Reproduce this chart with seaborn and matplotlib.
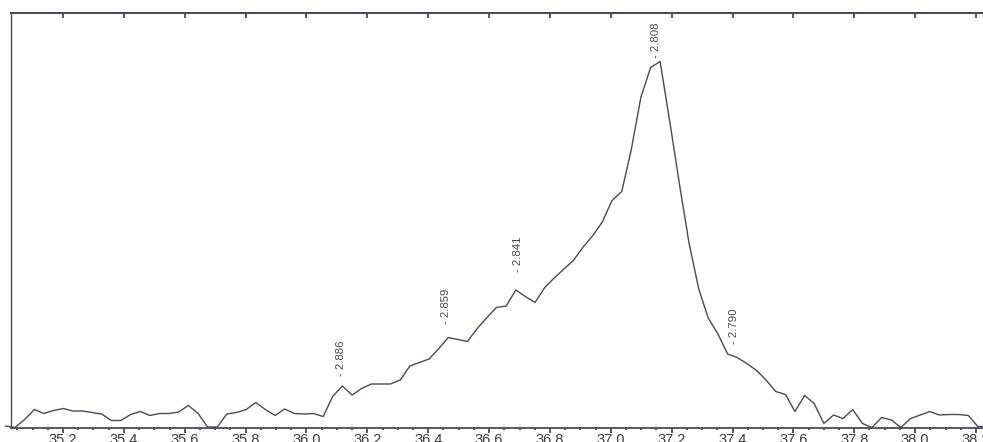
import matplotlib
matplotlib.use("Agg")
import matplotlib.pyplot as plt
import seaborn as sns
import numpy as np
import pandas as pd
from matplotlib.ticker import MultipleLocator

# ---- data (2-theta in degrees, intensity in counts) ----
two_theta = [
    35.011, 35.042, 35.074, 35.106, 35.137, 35.169, 35.201, 35.232, 35.264, 35.295,
    35.327, 35.359, 35.390, 35.422, 35.454, 35.485, 35.517, 35.549, 35.580, 35.612,
    35.644, 35.675, 35.707, 35.738, 35.770, 35.802, 35.833, 35.865, 35.897, 35.928,
    35.960, 35.992, 36.023, 36.055, 36.086, 36.118, 36.150, 36.181, 36.213, 36.245,
    36.276, 36.308, 36.340, 36.371, 36.403, 36.435, 36.466, 36.498, 36.529, 36.561,
    36.593, 36.624, 36.656, 36.688, 36.719, 36.751, 36.783, 36.814, 36.846, 36.877,
    36.909, 36.941, 36.972, 37.004, 37.036, 37.067, 37.099, 37.131, 37.162, 37.194,
    37.226, 37.257, 37.289, 37.320, 37.352, 37.384, 37.415, 37.447, 37.479, 37.510,
    37.542, 37.574, 37.605, 37.637, 37.668, 37.700, 37.732, 37.763, 37.795, 37.827,
    37.858, 37.890, 37.922, 37.953, 37.985, 38.017, 38.048, 38.080, 38.111, 38.143,
    38.175, 38.206, 38.238,
]
counts = [
    1.5, 0, 8, 18, 14, 17, 19, 16.5, 16.5, 15,
    13.5, 7, 7, 13, 16, 12, 14, 14, 15.5, 22,
    14, 0.5, 0.5, 13.5, 15, 18, 25, 18, 12, 18.5,
    14, 13.5, 14, 11, 31, 41.5, 32.5, 39, 43.5, 43.5,
    43.5, 47.5, 61.5, 65, 68.5, 79, 90, 88, 86, 99,
    110, 120, 121.5, 137.5, 131, 125, 140, 149.5, 158.5, 167,
    180.5, 192, 205.5, 227, 236, 277.5, 330.5, 360, 366, 305.5,
    242.5, 184.5, 138.5, 109.5, 93.5, 73.5, 70, 64, 57, 47.5,
    36, 33, 16, 32, 24, 4, 12.5, 9, 18, 4,
    0, 10, 7.5, 0, 9, 12.5, 16, 12.5, 13, 13,
    12, 1, 1,
]

# peak annotations: d-spacing labels, their 2-theta and label heights (counts)
peak_d = ["2.886", "2.859", "2.841", "2.808", "2.790"]
peak_2theta = [36.112, 36.459, 36.696, 37.148, 37.405]
peak_label_y = [51.5, 104, 155, 370, 83.5]

tick_values = [35.2, 35.4, 35.6, 35.8, 36.0, 36.2, 36.4, 36.6, 36.8, 37.0,
               37.2, 37.4, 37.6, 37.8, 38.0, 38.2]
tick_labels = ["35.2", "35.4", "35.6", "35.8", "36.0", "36.2", "36.4", "36.6",
               "36.8", "37.0", "37.2", "37.4", "37.6", "37.8", "38.0", "38.2"]

df = pd.DataFrame({"two_theta": two_theta, "counts": counts})

sns.set_theme(style="ticks")
plt.rcParams["font.family"] = ["Liberation Sans", "DejaVu Sans"]

W, H = 983, 442
fig = plt.figure(figsize=(W / 100, H / 100), dpi=100)
ax_left, ax_right, ax_top, ax_bottom = 11, 990, 13, 427.5
ax = fig.add_axes([ax_left / W, (H - ax_bottom) / H,
                   (ax_right - ax_left) / W, (ax_bottom - ax_top) / H])

line_color = "#4a4a58"
sns.lineplot(data=df, x="two_theta", y="counts", ax=ax, color=line_color,
             linewidth=1.0, sort=False, estimator=None, clip_on=False)

ax.set_xlim(35.0291, 38.246)
ax.set_ylim(0, 414.5)

spine_color = "#4a4a58"
for side in ["left", "top", "bottom"]:
    ax.spines[side].set_color(spine_color)
    ax.spines[side].set_visible(True)
ax.spines["right"].set_visible(False)
ax.spines["bottom"].set_linewidth(1.3)
ax.spines["top"].set_linewidth(1.3)
ax.spines["left"].set_linewidth(1.0)

ax.set_xticks(tick_values)
ax.set_xticklabels(tick_labels)
ax.xaxis.set_minor_locator(MultipleLocator(0.05))
ax.tick_params(axis="x", which="major", direction="out", length=3.4, width=1.3,
               color=spine_color, labelsize=10.5, labelcolor="#3c3c3c", pad=0.8,
               top=False, bottom=True)
ax.tick_params(axis="x", which="minor", direction="out", length=1.4, width=1.3,
               color=spine_color, bottom=True, top=False)
ax.set_yticks([])
ax.set_xlabel("")
ax.set_ylabel("")

# top axis: major ticks pointing inward, no labels
sec = ax.secondary_xaxis("top")
sec.set_xticks(tick_values)
sec.tick_params(axis="x", which="major", direction="in", length=3.4, width=1.3,
                color=spine_color, labeltop=False)
sec.xaxis.set_minor_locator(MultipleLocator(10))
sec.spines["top"].set_color(spine_color)
sec.spines["top"].set_linewidth(1.3)

for lab, xv, yv in zip(peak_d, peak_2theta, peak_label_y):
    ax.text(xv, yv, "- " + lab, rotation=90, ha="center", va="bottom",
            fontsize=8.2, color="#4a4a4a")

fig.savefig("out.png", dpi=100)
